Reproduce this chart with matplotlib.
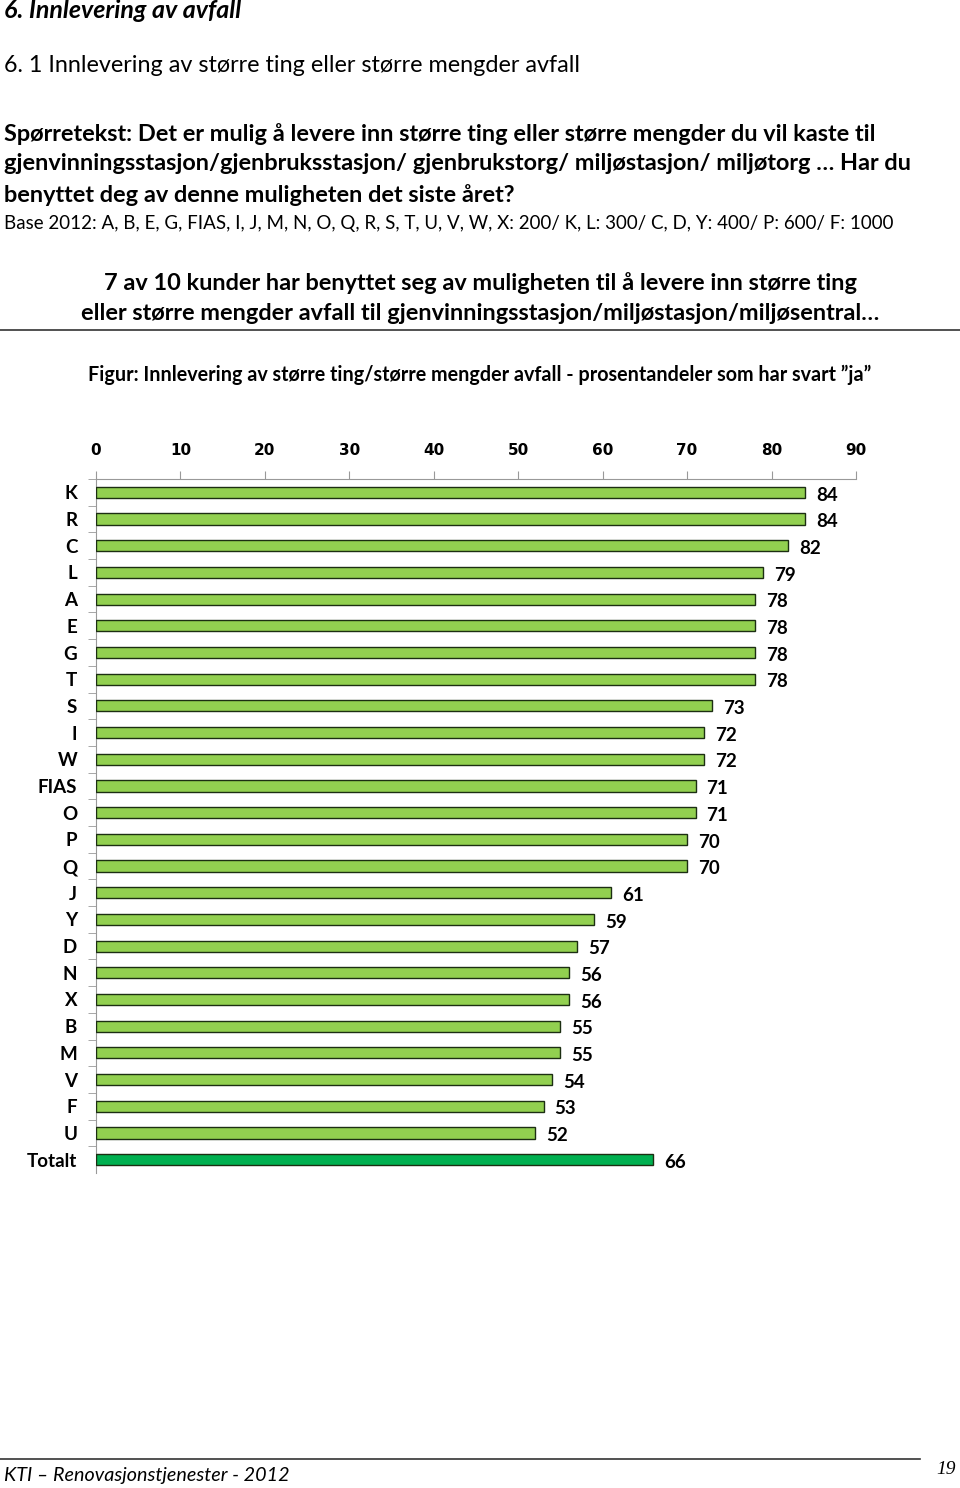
import matplotlib
matplotlib.use("Agg")
import matplotlib.pyplot as plt
import numpy as np

categories = ["K", "R", "C", "L", "A", "E", "G", "T", "S", "I", "W", "FIAS", "O",
              "P", "Q", "J", "Y", "D", "N", "X", "B", "M", "V", "F", "U", "Totalt"]
values = [84, 84, 82, 79, 78, 78, 78, 78, 73, 72, 72, 71, 71,
          70, 70, 61, 59, 57, 56, 56, 55, 55, 54, 53, 52, 66]
xticks = [0, 10, 20, 30, 40, 50, 60, 70, 80, 90]

W, H = 960, 1488
FONT = ["Lato", "DejaVu Sans"]
LIGHT = "#92D050"
DARK = "#00B050"

fig = plt.figure(figsize=(W / 100, H / 100), dpi=100)


def px(x, y):
    return x / W, 1 - y / H


def put(x, y, s, size, weight="normal", style="normal", ha="left", family=FONT):
    fig.text(*px(x, y), s, fontsize=size, fontweight=weight, fontstyle=style,
             ha=ha, va="center", family=family, color="black")


# page text
put(4, 10, "6. Innlevering av avfall", 18, "bold", "italic")
put(4, 66, "6. 1 Innlevering av større ting eller større mengder avfall", 16.8)
put(4, 134, "Spørretekst: Det er mulig å levere inn større ting eller større mengder du vil kaste til", 16.9, "bold")
put(4, 164, "gjenvinningsstasjon/gjenbruksstasjon/ gjenbrukstorg/ miljøstasjon/ miljøtorg … Har du", 16.9, "bold")
put(4, 195, "benyttet deg av denne muligheten det siste året?", 16.9, "bold")
put(4, 223, "Base 2012: A, B, E, G, FIAS, I, J, M, N, O, Q, R, S, T, U, V, W, X: 200/ K, L: 300/ C, D, Y: 400/ P: 600/ F: 1000", 13.5)
put(480, 283, "7 av 10 kunder har benyttet seg av muligheten til å levere inn større ting", 16.9, "bold", ha="center")
put(480, 313, "eller større mengder avfall til gjenvinningsstasjon/miljøstasjon/miljøsentral…", 16.9, "bold", ha="center")
fig.add_artist(plt.Line2D([0, 1], [1 - 330 / H] * 2, color="#333333", lw=1.2))
put(480, 375, "Figur: Innlevering av større ting/større mengder avfall - prosentandeler som har svart \u201dja\u201d", 14.2, "bold", ha="center")

# footer
fig.add_artist(plt.Line2D([0, 920 / W], [1 - 1459 / H] * 2, color="#333333", lw=1.2))
put(4, 1475, "KTI \u2013 Renovasjonstjenester - 2012", 14.2, style="italic")
put(956, 1470, "19", 14, style="italic", ha="right", family=["Liberation Serif"])

# chart
ax = fig.add_axes([96 / W, 1 - 1173 / H, (856 - 96) / W, (1173 - 479) / H])
y = np.arange(len(categories))
colors = [LIGHT] * (len(categories) - 1) + [DARK]
ax.barh(y, values, height=0.42, color=colors, edgecolor="#1c2e12", linewidth=1.0, zorder=3)
for yi, v in zip(y, values):
    ax.text(v + 1.3, yi + 0.1, str(v), fontsize=13.5, fontweight="bold", family=FONT,
            ha="left", va="center")

ax.set_xlim(0, 90)
ax.set_ylim(len(categories) - 0.5, -0.5)
ax.xaxis.tick_top()
ax.set_xticks(xticks)
ax.set_xticklabels([str(t) for t in xticks], fontsize=11, fontweight="bold", family="DejaVu Sans")
ax.tick_params(axis="x", direction="out", length=6, color="#999999", pad=9)

ax.set_yticks(y)
ax.set_yticklabels(categories, fontsize=13.5, fontweight="bold", family=FONT)
ax.set_yticks(np.arange(-0.5, len(categories) - 1, 1.0), minor=True)
ax.tick_params(axis="y", which="major", length=0, pad=13.5)
ax.tick_params(axis="y", which="minor", length=6, color="#999999", direction="out")

for side in ["right", "bottom"]:
    ax.spines[side].set_visible(False)
for side in ["left", "top"]:
    ax.spines[side].set_color("#999999")

fig.savefig("out.png", dpi=100)
